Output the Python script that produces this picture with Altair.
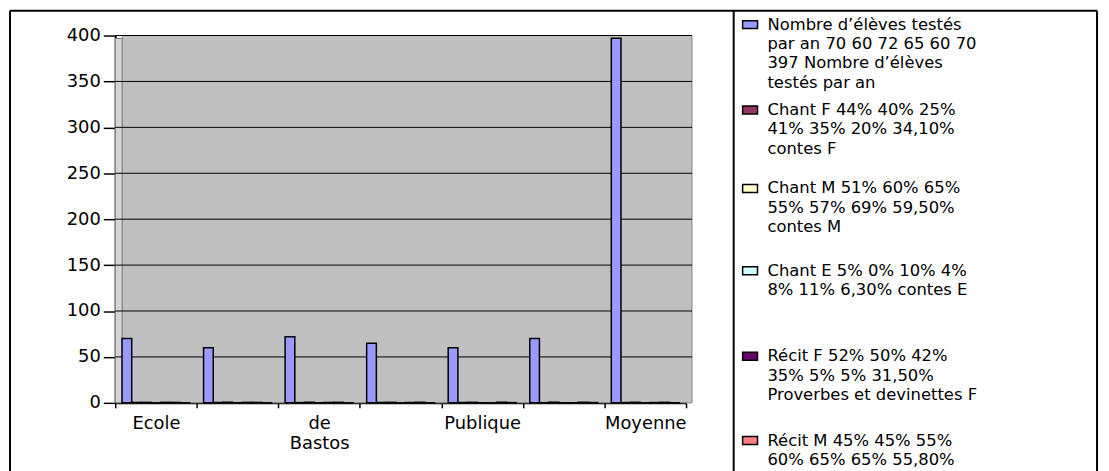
import json
import altair as alt
import pandas as pd

# ---------------- data ----------------
category_ids = [1, 2, 3, 4, 5, 6, 7]
category_labels = [["Ecole"], [""], ["de", "Bastos"], [""], ["Publique"], [""], ["Moyenne"]]

series_names = [
    "Nombre d’élèves testés par an",
    "Chant F", "Chant M", "Chant E",
    "Récit F", "Récit M", "Récit E",
]
nombre = [70, 60, 72, 65, 60, 70, 397]
chant_f = [0.44, 0.40, 0.25, 0.41, 0.35, 0.20, 0.341]
chant_m = [0.51, 0.60, 0.65, 0.55, 0.57, 0.69, 0.595]
chant_e = [0.05, 0.00, 0.10, 0.04, 0.08, 0.11, 0.063]
recit_f = [0.52, 0.50, 0.42, 0.35, 0.05, 0.05, 0.315]
recit_m = [0.45, 0.45, 0.55, 0.60, 0.65, 0.65, 0.558]
recit_e = [0.03, 0.05, 0.03, 0.05, 0.30, 0.30, 0.127]  # estimated (hidden in legend)

series_colors = ["#9999FF", "#993366", "#FFFFCC", "#CCFFFF", "#660066", "#FF8080", "#0066CC"]

# legend text as visible in the picture (the rest is cut off at the bottom)
legend_lines = [
    ["Nombre d’élèves testés", "par an 70 60 72 65 60 70", "397 Nombre d’élèves", "testés par an"],
    ["Chant F 44% 40% 25%", "41% 35% 20% 34,10%", "contes F"],
    ["Chant M 51% 60% 65%", "55% 57% 69% 59,50%", "contes M"],
    ["Chant E 5% 0% 10% 4%", "8% 11% 6,30% contes E"],
    ["Récit F 52% 50% 42%", "35% 5% 5% 31,50%", "Proverbes et devinettes F"],
    ["Récit M 45% 45% 55%", "60% 65% 65% 55,80%"],
]

y_ticks = [0, 50, 100, 150, 200, 250, 300, 350, 400]

# ---------------- layout constants ----------------
FONT = "DejaVu Sans"
FS = 18
LFS = 16.5
W, H = 575, 370
PAD = {"left": 108, "top": 26, "right": 418, "bottom": 77}
legend_first_line = [23, 109, 188, 271, 357, 442]   # page y of first line of each entry
legend_pitch = 19.5

# ---------------- tables ----------------
all_series = [nombre, chant_f, chant_m, chant_e, recit_f, recit_m, recit_e]
rows = []
for s_name, vals in zip(series_names, all_series):
    for c, v in zip(category_ids, vals):
        rows.append({"cat": c, "series": s_name, "value": v})
bars_df = pd.DataFrame(rows)

grid_df = pd.DataFrame({"v": y_ticks[1:]})

leg_rows = []
for i, lines in enumerate(legend_lines):
    for j, t in enumerate(lines):
        leg_rows.append({
            "series": series_names[i], "line": j, "text": t,
            "ly": legend_first_line[i] + j * legend_pitch - (PAD["top"] + 8),
        })
legend_df = pd.DataFrame(leg_rows)
legend_sym_df = legend_df[legend_df["line"] == 0].copy()
legend_sym_df["ly1"] = legend_sym_df["ly"] - 4
legend_sym_df["ly2"] = legend_sym_df["ly"] + 4

one = pd.DataFrame({"_": [0]})

label_expr = json.dumps(category_labels, ensure_ascii=False) + "[datum.value - 1]"

yscale = alt.Scale(domain=[0, 400], nice=False, zero=True)
ident = alt.Scale(domain=[0, 100], range=[0, 100], nice=False, zero=False)
color_scale = alt.Scale(domain=series_names, range=series_colors)

# ---------------- layers ----------------
back_wall = alt.Chart(one).mark_rect(fill="#C0C0C0", stroke="#808080", strokeWidth=1).encode(
    x=alt.value(7), x2=alt.value(581), y=alt.value(0), y2=alt.value(H)
)
left_wall = alt.Chart(one).mark_rect(fill="#D4D4D4", stroke="#808080", strokeWidth=1).encode(
    x=alt.value(0), x2=alt.value(7), y=alt.value(3), y2=alt.value(H)
)
grid = alt.Chart(grid_df).mark_rule(color="black", strokeWidth=1).encode(
    y=alt.Y("v:Q", scale=yscale, axis=None),
    x=alt.value(0), x2=alt.value(581),
)
bars = alt.Chart(bars_df).mark_bar(stroke="black", strokeWidth=1.5).encode(
    x=alt.X(
        "cat:O",
        scale=alt.Scale(paddingInner=0, paddingOuter=0),
        axis=alt.Axis(
            title=None, labelExpr=label_expr, labelAngle=0, tickBand="extent",
            tickSize=5, tickColor="black", tickWidth=1.5, domainColor="black", domainWidth=2,
            labelFont=FONT, labelFontSize=FS, labelColor="black", labelPadding=7,
            labelLineHeight=20, labelBaseline="top", grid=False,
        ),
    ),
    xOffset=alt.XOffset("series:N", sort=series_names,
                        scale=alt.Scale(domain=series_names, paddingInner=0, paddingOuter=0.7)),
    y=alt.Y(
        "value:Q", scale=yscale,
        axis=alt.Axis(
            title=None, values=y_ticks, tickSize=12, tickColor="black", tickWidth=1.5,
            domainColor="black", domainWidth=2, labelFont=FONT, labelFontSize=FS,
            labelColor="black", labelPadding=3, grid=False,
        ),
    ),
    color=alt.Color("series:N", scale=color_scale, legend=None),
)


def vrule(xv):
    return alt.Chart(one).mark_rule(color="black", strokeWidth=2).encode(
        x=alt.value(xv), y=alt.value(-25), y2=alt.value(470)
    )


frame_top = alt.Chart(one).mark_rule(color="black", strokeWidth=2).encode(
    y=alt.value(-25), x=alt.value(-106), x2=alt.value(989)
)
frame_left = vrule(-106)
frame_right = vrule(989)
legend_box_left = vrule(623)

legend_sym = alt.Chart(legend_sym_df).mark_rect(stroke="black", strokeWidth=1.5).encode(
    x=alt.value(632), x2=alt.value(647),
    y=alt.Y("ly1:Q", scale=ident, axis=None), y2="ly2:Q",
    color=alt.Color("series:N", scale=color_scale, legend=None),
)
legend_text = alt.Chart(legend_df).mark_text(
    align="left", baseline="middle", font=FONT, fontSize=LFS, color="black"
).encode(
    x=alt.value(657),
    y=alt.Y("ly:Q", scale=ident, axis=None),
    text="text:N",
)

chart = alt.layer(
    back_wall, left_wall, grid, bars,
    frame_top, frame_left, frame_right, legend_box_left,
    legend_sym, legend_text,
).resolve_scale(y="independent").properties(
    width=W, height=H, padding=PAD,
    autosize=alt.AutoSizeParams(type="none"),
    background="white",
).configure_view(stroke=None)

chart.save("out.html", embed_options={"renderer": "svg", "actions": False})
